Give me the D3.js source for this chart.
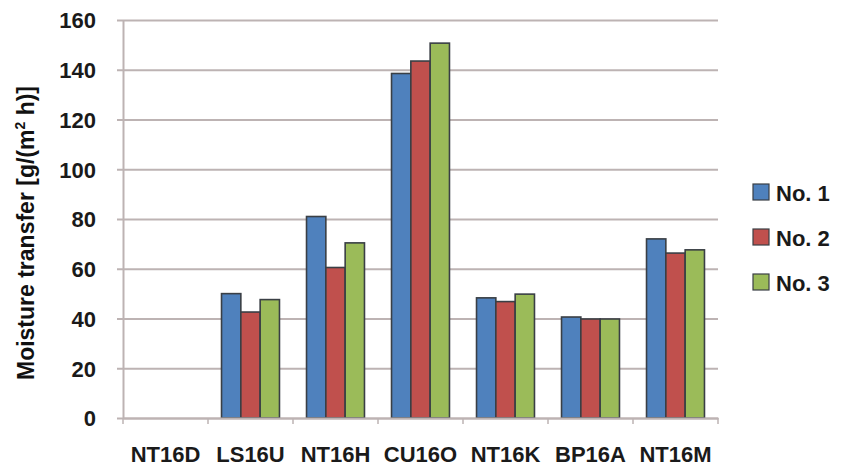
<!DOCTYPE html>
<html><head><meta charset="utf-8">
<script src="https://cdn.jsdelivr.net/npm/d3@7"></script>
<style>body{margin:0;background:#fff}svg{display:block}</style>
</head><body>
<script>
const categories = ["NT16D","LS16U","NT16H","CU16O","NT16K","BP16A","NT16M"];
const seriesNames = ["No. 1","No. 2","No. 3"];
const no1 = [0, 50, 81, 138.5, 48.3, 40.6, 72];
const no2 = [0, 42.6, 60.5, 143.5, 46.8, 39.8, 66.3];
const no3 = [0, 47.6, 70.4, 150.7, 49.8, 39.8, 67.6];
const yTicks = [0,20,40,60,80,100,120,140,160];
const colors = ["#4F81BD","#C0504D","#9BBB59"];
const series = [no1,no2,no3];

const W=846,H=474;
const m={left:123,right:128,top:20,bottom:56};
const svg=d3.select("body").append("svg").attr("width",W).attr("height",H);
const x=d3.scaleBand().domain(categories).range([m.left,W-m.right]).paddingInner(0).paddingOuter(0);
const y=d3.scaleLinear().domain([0,160]).range([H-m.bottom,m.top]);
const xs=d3.scaleBand().domain(seriesNames).range([0,x.bandwidth()]).paddingOuter(0.7).paddingInner(0);
const font="'Liberation Sans', Arial, sans-serif";
const gridColor="#bdb3b3";
const textColor="#1a1a1a";

// gridlines
const yAxis=d3.axisLeft(y).tickValues(yTicks).tickSize(-(W-m.right-m.left)).tickSizeOuter(0);
const gy=svg.append("g").attr("transform",`translate(${m.left},0)`).call(yAxis);
gy.select(".domain").attr("stroke",gridColor).attr("stroke-width",2);
gy.selectAll(".tick line").attr("stroke",gridColor).attr("stroke-width",2).attr("x1",-6);
gy.selectAll(".tick text").attr("font-family",font).attr("font-size",22).attr("font-weight",700).attr("fill",textColor).attr("x",-27).attr("dy","0.36em");

// bars
const g=svg.append("g");
categories.forEach((c,i)=>{
  series.forEach((s,j)=>{
    const v=s[i];
    if(!v) return;
    g.append("rect").attr("x",x(c)+xs(seriesNames[j])).attr("y",y(v))
     .attr("width",xs.bandwidth()).attr("height",y(0)-y(v))
     .attr("fill",colors[j]).attr("stroke","#3a3f45").attr("stroke-width",1.6);
  });
});

// x axis
const xAxis=d3.axisBottom(x).tickSize(0).tickPadding(28);
const gx=svg.append("g").attr("transform",`translate(0,${H-m.bottom})`).call(xAxis);
gx.select(".domain").attr("stroke",gridColor).attr("stroke-width",2);
gx.selectAll(".tick text").attr("font-family",font).attr("font-size",22).attr("font-weight",700).attr("fill",textColor);
const bounds=categories.map(c=>x(c)).concat([x(categories[categories.length-1])+x.bandwidth()]);
gx.selectAll(".sep").data(bounds).enter().append("line").attr("class","sep")
  .attr("x1",d=>d).attr("x2",d=>d).attr("y1",0).attr("y2",6).attr("stroke",gridColor).attr("stroke-width",1.5);

// y title
const t=svg.append("text").attr("transform",`translate(34,233) rotate(-90)`)
 .attr("text-anchor","middle").attr("font-family",font).attr("font-size",23).attr("font-weight",700).attr("fill","#111");
t.append("tspan").text("Moisture transfer [g/(m");
t.append("tspan").text("2").attr("font-size",14).attr("dy",-9);
t.append("tspan").text(" h)]").attr("dy",9);

// legend
const lg=svg.append("g").attr("transform","translate(753,184)");
seriesNames.forEach((n,j)=>{
  const r=lg.append("g").attr("transform",`translate(0,${j*45})`);
  r.append("rect").attr("x",0).attr("y",0).attr("width",16).attr("height",16).attr("fill",colors[j]).attr("stroke","#3a3f45").attr("stroke-width",1.2);
  r.append("text").attr("x",23).attr("y",17).attr("font-family",font).attr("font-size",22).attr("font-weight",700).attr("fill",textColor).text(n);
});
</script>
</body></html>
